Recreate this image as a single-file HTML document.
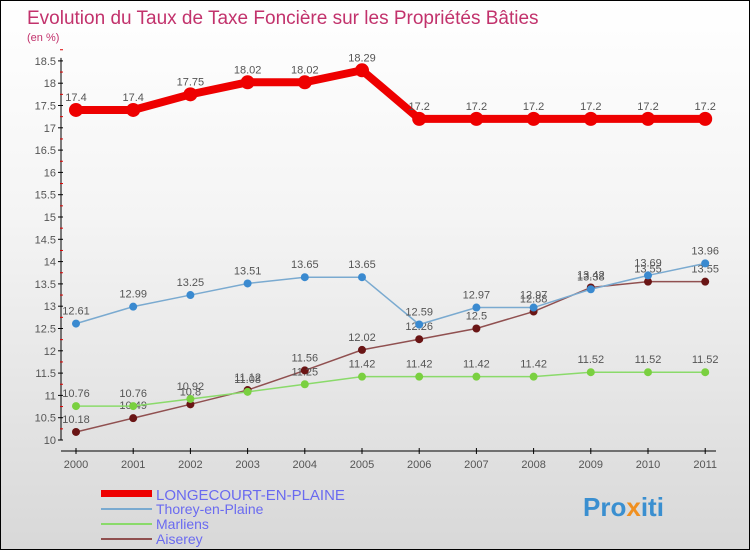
<!DOCTYPE html>
<html><head><meta charset="utf-8"><style>
body{margin:0}
#c{width:748px;height:548px;border:1px solid #000;background:linear-gradient(#fff 0%,#f4f4f4 40%,#d8d8d8 100%);position:relative;font-family:"Liberation Sans",sans-serif;overflow:hidden}
</style></head><body>
<div id="c">
<svg id="s" width="748" height="548" xmlns="http://www.w3.org/2000/svg" font-family="Liberation Sans, sans-serif">
<text x="26" y="23" font-size="19" fill="#c2326c">Evolution du Taux de Taxe Foncière sur les Propriétés Bâties</text>
<text x="26" y="40" font-size="11" fill="#c2326c">(en %)</text>
<g id="ax"></g><g id="series"></g>
<g>
<rect x="100" y="489" width="51" height="7" fill="#e00"/><text x="155" y="499" font-size="15" fill="#6a6af0">LONGECOURT-EN-PLAINE</text>
<line x1="100" y1="508" x2="151" y2="508" stroke="#7aaad0" stroke-width="2"/><text x="155" y="513" font-size="14" fill="#6a6af0">Thorey-en-Plaine</text>
<line x1="100" y1="523" x2="151" y2="523" stroke="#8ada6a" stroke-width="2"/><text x="155" y="528" font-size="14" fill="#6a6af0">Marliens</text>
<line x1="100" y1="538" x2="151" y2="538" stroke="#905050" stroke-width="2"/><text x="155" y="543" font-size="14" fill="#6a6af0">Aiserey</text>
</g>
<text x="582" y="515" font-size="26" font-weight="bold" fill="#3a8fd0">Pro<tspan fill="#f09020">x</tspan>iti</text>
</svg>
</div>
<script>
const years=[2000,2001,2002,2003,2004,2005,2006,2007,2008,2009,2010,2011];
const longecourt=[17.4,17.4,17.75,18.02,18.02,18.29,17.2,17.2,17.2,17.2,17.2,17.2];
const thorey=[12.61,12.99,13.25,13.51,13.65,13.65,12.59,12.97,12.97,13.38,13.69,13.96];
const marliens=[10.76,10.76,10.92,11.08,11.25,11.42,11.42,11.42,11.42,11.52,11.52,11.52];
const aiserey=[10.18,10.49,10.8,11.12,11.56,12.02,12.26,12.5,12.88,13.42,13.55,13.55];
const yTicks=[10,10.5,11,11.5,12,12.5,13,13.5,14,14.5,15,15.5,16,16.5,17,17.5,18,18.5];
const NS="http://www.w3.org/2000/svg";
const X=i=>75+i*57.2, Y=v=>439-(v-10)*44.6;
function mk(t,a,p){const e=document.createElementNS(NS,t);for(const k in a)e.setAttribute(k,a[k]);(p||document.getElementById('ax')).appendChild(e);return e;}
let l=mk('line',{x1:60,y1:Y(18.5)-3,x2:60,y2:Y(10),stroke:'#000'});


l=mk('line',{x1:60,y1:450,x2:715,y2:450,stroke:'#000'});


yTicks.forEach(v=>{mk('line',{x1:57,y1:Y(v),x2:62,y2:Y(v),stroke:'#000'});
 mk('line',{x1:59,y1:Y(v+0.25),x2:62,y2:Y(v+0.25),stroke:'#d00'});
 const t=mk('text',{x:55,y:Y(v)+4,'font-size':11,fill:'#555','text-anchor':'end'});t.textContent=v;
 
 });
years.forEach((y,i)=>{mk('line',{x1:X(i),y1:447,x2:X(i),y2:453,stroke:'#000'});
 const t=mk('text',{x:X(i),y:467,'font-size':11,fill:'#555','text-anchor':'middle'});t.textContent=y;
 
 });
const sg=document.getElementById('series');
function draw(vals,name,color,w,r,dot){
 const g=mk('g',{},sg);
 
 
 mk('polyline',{points:vals.map((v,i)=>X(i)+','+Y(v)).join(' '),fill:'none',stroke:color,'stroke-width':w},g);
 vals.forEach((v,i)=>{const c=mk('circle',{cx:X(i),cy:Y(v),r:r,fill:dot},g);
  
  
  const t=mk('text',{x:X(i),y:Y(v)-9,'font-size':11,fill:'#555','text-anchor':'middle'},g);t.textContent=v;});
}
draw(aiserey,'aiserey-series','#905050',1.5,4,'#6a1515');
draw(marliens,'marliens-series','#8ada6a',1.5,4,'#7ad040');
draw(thorey,'thorey-series','#7aaad0',1.5,4,'#3a8ad0');
draw(longecourt,'longecourt-series','#e00',8,7,'#e00');
</script>
</body></html>
